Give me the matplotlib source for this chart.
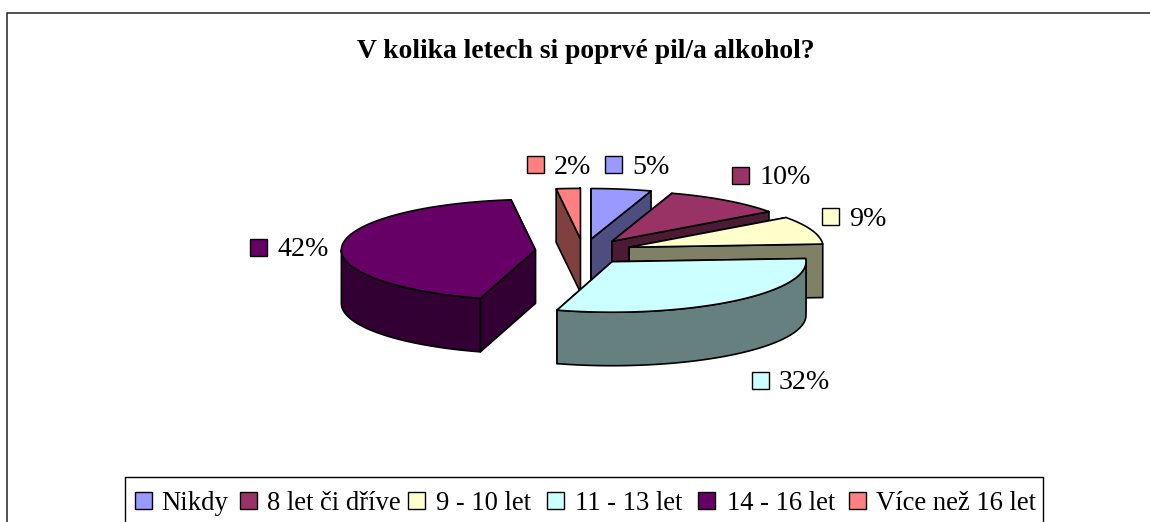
import numpy as np
import matplotlib
matplotlib.use("Agg")
import matplotlib.pyplot as plt
from matplotlib.patches import Polygon, Rectangle

title = "V kolika letech si poprvé pil/a alkohol?"
categories = ["Nikdy", "8 let či dříve", "9 - 10 let", "11 - 13 let", "14 - 16 let", "Více než 16 let"]
values = [5, 10, 9, 32, 42, 2]
top_colors = ["#9999FF", "#993366", "#FFFFCC", "#CCFFFF", "#660066", "#FF8080"]
side_colors = ["#4D4D80", "#4D1A33", "#808066", "#668080", "#330033", "#804040"]

W, H = 1150, 522
CX, CY = 583.5, 251.5      # pie centre, px
RX, RY = 194.0, 50.5       # projected radius
DEPTH = 53.5
EXPLODE = 0.25
plt.rcParams["font.family"] = ["Liberation Serif", "DejaVu Serif"]

fig = plt.figure(figsize=(W / 100, H / 100), dpi=100)
ax = fig.add_axes([0, 0, 1, 1])
ax.set_xlim(0, W)
ax.set_ylim(H, 0)
ax.axis("off")

# chart frame (its right and bottom edges fall outside the picture)
ax.add_patch(Rectangle((6.5, 12.5), 1300, 700, fc="white", ec="#222222", lw=1.1, zorder=0))
ax.text(586, 58, title, ha="center", va="baseline", fontsize=19.9, fontweight="bold", zorder=5)


def view(deg):
    """Foreshortening of the 3-D view in the front-left quadrant."""
    d = np.asarray(deg, dtype=float)
    return d - np.where((d > 180) & (d < 270), 7.5 * np.sin(np.radians(2 * d)), 0.0)


def rim(deg, x0, y0):
    t = np.radians(view(deg))
    return x0 + RX * np.sin(t), y0 - RY * np.cos(t)


total = sum(values)
edges = np.cumsum([0] + values) / total * 360.0
mids = (edges[:-1] + edges[1:]) / 2
apex_x = CX + EXPLODE * RX * np.sin(np.radians(mids))
apex_y = CY - EXPLODE * RY * np.cos(np.radians(mids))

order = [5, 0, 1, 2, 4, 3]  # back to front
lw = 1.2
for z, i in enumerate(order):
    a0, a1 = edges[i], edges[i + 1]
    x0, y0 = apex_x[i], apex_y[i]
    base = 1 + z * 4
    # cut faces, the one nearer the viewer last
    for a in sorted((a0, a1), key=lambda q: float(rim(q, x0, y0)[1])):
        rx, ry = rim(a, x0, y0)
        ax.add_patch(Polygon([(x0, y0), (rx, ry), (rx, ry + DEPTH), (x0, y0 + DEPTH)],
                             fc=side_colors[i], ec="black", lw=lw, joinstyle="round", zorder=base))
    # outer wall, front half only
    lo, hi = max(a0, 90.0), min(a1, 270.0)
    if hi > lo:
        tt = np.linspace(lo, hi, 80)
        xs, ys = rim(tt, x0, y0)
        ax.add_patch(Polygon(np.r_[np.c_[xs, ys], np.c_[xs, ys + DEPTH][::-1]],
                             fc=side_colors[i], ec="black", lw=lw, joinstyle="round", zorder=base + 1))
    # top
    tt = np.linspace(a0, a1, 120)
    xs, ys = rim(tt, x0, y0)
    ax.add_patch(Polygon(np.r_[[(x0, y0)], np.c_[xs, ys]],
                         fc=top_colors[i], ec="black", lw=lw, joinstyle="round", zorder=base + 2))

# data labels (key square + percentage)
SQ = 17
label_x = [605, 732, 822, 752, 250, 527]
label_y = [164.5, 175.5, 216.5, 380, 247, 164.5]
for i, v in enumerate(values):
    ax.add_patch(Rectangle((label_x[i], label_y[i] - SQ / 2), SQ, SQ, fc=top_colors[i], ec="black", lw=1.0, zorder=40))
    ax.text(label_x[i] + 27, label_y[i] + 9, f"{v}%", ha="left", va="baseline", fontsize=20.2, zorder=40)

# legend (its bottom edge falls outside the picture)
ax.add_patch(Rectangle((124.5, 476.5), 918.5, 80, fc="white", ec="black", lw=1.0, zorder=30))
leg_sq = [135, 240, 408, 547, 698, 849]
leg_tx = [161, 267, 436, 575, 727, 876]
for i, c in enumerate(categories):
    ax.add_patch(Rectangle((leg_sq[i], 492), SQ, SQ, fc=top_colors[i], ec="black", lw=1.0, zorder=31))
    ax.text(leg_tx[i], 510, c, ha="left", va="baseline", fontsize=19.2, zorder=31)

fig.savefig("out.png", dpi=100)
